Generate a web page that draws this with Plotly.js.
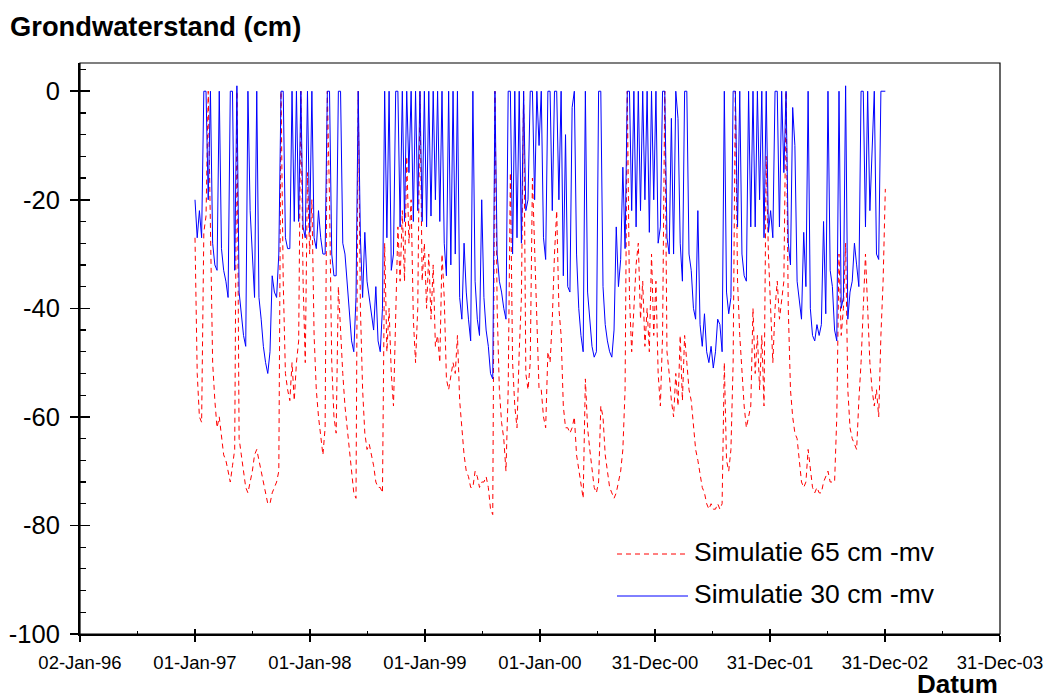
<!DOCTYPE html>
<html>
<head>
<meta charset="utf-8">
<script src="https://cdn.plot.ly/plotly-3.0.1.min.js"></script>
<style>html,body{margin:0;padding:0;background:#fff;}#chart{width:1045px;height:699px;}</style>
</head>
<body>
<div id="chart"></div>
<script>
// Weekly samples starting 1997-01-01
const seriesStart = '1997-01-01';
const stepDays = 7;

const seriesNames = ['Simulatie 65 cm -mv', 'Simulatie 30 cm -mv'];

// Simulatie 30 cm -mv (blue, solid)
const blue30 = [
  -20,-27,-22,-27,0,0,-20,0,-28,-32,
  -33,0,-29,-33,-35,-38,0,0,-33,1,
  -37,-41,-45,-47,0,-22,-30,-38,0,-38,
  -42,-47,-50,-52,-48,-34,-37,-38,-30,0,
  0,-27,-29,-29,0,-24,0,-24,0,-25,
  -27,0,-26,0,-27,-29,-22,-27,-30,-30,
  0,0,-30,-34,-34,0,0,-28,-30,-36,
  -40,-46,-48,-38,0,-27,-38,-26,-35,-38,
  -40,-44,-36,-46,-48,-40,0,-27,0,-33,
  -30,0,0,-25,0,-24,0,-15,0,-24,
  0,-22,0,-24,0,-25,0,-23,0,-20,
  0,-24,0,-28,-34,0,-32,0,-30,0,
  -38,-42,-28,-37,-42,-46,0,-35,-42,-45,
  -20,-38,-44,-47,-52,-53,0,-30,-35,-37,
  -40,-42,0,0,-30,0,-27,0,-28,0,
  -22,-20,0,0,-20,0,-10,0,-27,-31,
  0,0,-22,0,0,-20,0,-34,-8,-36,
  -37,-3,0,-30,-40,-45,-48,0,-37,-42,
  -47,-49,-48,0,0,-36,-43,-46,-48,-49,
  -44,-25,-36,-31,-14,-29,0,0,-22,0,
  -25,0,-22,0,-20,0,-26,0,-20,0,
  -28,-25,0,0,-27,-30,-5,-30,0,-5,
  -28,-35,0,0,-30,-33,-40,-42,-22,-43,
  -47,-41,-48,-50,-47,-51,-48,-42,-43,-48,
  0,-37,-41,-38,0,0,-25,0,-30,-34,
  -35,0,-25,0,-25,0,-20,0,-27,0,
  -26,-22,-27,0,0,-25,0,-15,0,-28,
  -32,-3,-10,-35,-38,-42,-26,-36,0,-40,
  -45,-46,-43,-45,-43,-24,-41,0,-33,-36,
  -44,-46,0,-40,-38,1,-42,-37,-35,-28,
  -32,-36,0,0,-25,0,-22,-12,0,-30,
  -31,0,0,0
];

// Simulatie 65 cm -mv (red, dashed)
const red65 = [
  -27,-52,-60,-61,-26,-23,0,-28,-50,-57,
  -62,-60,-63,-67,-68,-70,-72,-69,-66,0,
  -64,-67,-70,-73,-74,-72,-70,-67,-66,-68,
  -70,-72,-74,-76,-76,-74,-73,-72,-70,0,
  -35,-52,-55,-57,-50,-57,-50,-46,0,-35,
  -50,-15,-30,-20,-45,-55,-60,-63,-67,-62,
  0,-20,-50,-60,-63,-36,-45,-52,-58,-62,
  -66,-70,-74,-75,0,-40,-55,-63,-66,-65,
  -67,-69,-72,-73,-73,-74,-28,-48,-40,-52,
  -58,-40,-25,-35,-22,-35,-12,-28,-20,-42,
  -50,-40,0,-35,-28,-40,-30,-42,-32,-47,
  -45,-50,-30,-38,-53,-55,-52,-50,-52,-45,
  -57,-63,-67,-70,-71,-73,-73,-70,-71,-73,
  -72,-72,-71,-73,-77,-78,0,-40,-55,-61,
  -64,-70,-55,-15,-50,-58,-62,-48,-38,0,
  -52,-55,-50,-16,-30,-45,-55,-55,-60,-62,
  -48,-50,-42,-30,-22,-40,-45,-58,-62,-62,
  -63,-62,-60,-67,-70,-73,-75,-53,-62,-66,
  -70,-73,-74,-72,-58,-60,-67,-70,-73,-74,
  -75,-74,-72,-70,-66,-55,0,-38,-48,-40,
  -32,-28,-42,-35,-47,-40,-48,-30,-45,-35,
  -52,-58,-45,0,-48,-52,-57,-60,-52,-58,
  -45,-57,-45,-50,-55,-57,-62,-66,-68,-71,
  -73,-74,-76,-77,-76,-77,-77,-76,-77,-76,
  -50,-68,-70,-66,-50,0,-35,-45,-52,-58,
  -62,-60,-58,-40,-52,-45,-55,-45,-58,-12,
  -30,-40,-50,-40,-35,-42,-38,-35,0,-40,
  -55,-60,-63,-64,-68,-72,-73,-72,-66,-70,
  -73,-74,-73,-74,-74,-72,-71,-70,-72,-72,
  -72,-60,-30,-45,-40,-28,-55,-62,-64,-65,
  -66,-57,-50,-40,-30,-40,-50,-55,-58,-55,
  -60,-45,-35,-18
];

// Axis ticks
const xTickVals = ['1996-01-02','1997-01-01','1998-01-01','1999-01-01','2000-01-01','2000-12-31','2001-12-31','2002-12-31','2003-12-31'];
const xTickText = ['02-Jan-96','01-Jan-97','01-Jan-98','01-Jan-99','01-Jan-00','31-Dec-00','31-Dec-01','31-Dec-02','31-Dec-03'];
const yTickVals = [0,-20,-40,-60,-80,-100];
const yTickText = ['0','-20','-40','-60','-80','-100'];
const xRange = ['1996-01-02','2003-12-31'];
const yRange = [-100, 5.2];

function buildDates(n) {
  const [y, m, d] = seriesStart.split('-').map(Number);
  const t0 = Date.UTC(y, m - 1, d);
  const out = [];
  for (let i = 0; i < n; i++) out.push(new Date(t0 + i * stepDays * 86400000).toISOString().slice(0, 10));
  return out;
}
const dates = buildDates(blue30.length);

const FONT = 'Liberation Sans, Arial, Helvetica, sans-serif';
const RED = '#ff0000', BLUE = '#0000ff';
const DASH = '5px,4px';

const traces = [
  {type:'scatter', mode:'lines', name:seriesNames[0], x:dates, y:red65,
   line:{color:RED, width:1, dash:DASH}, hoverinfo:'x+y'},
  {type:'scatter', mode:'lines', name:seriesNames[1], x:dates, y:blue30,
   line:{color:BLUE, width:1}, hoverinfo:'x+y'},
  {type:'scatter', mode:'lines', x:[], y:[], xaxis:'x2', yaxis:'y2', showlegend:false, hoverinfo:'skip'}
];

// plot area in pixels: x 80..1000, y 63..634
const px = v => (v - 80) / 920;
const py = v => (634 - v) / 571;

const layout = {
  width:1045, height:699,
  margin:{l:80, r:45, t:63, b:65, pad:0},
  paper_bgcolor:'#ffffff', plot_bgcolor:'#ffffff',
  showlegend:false,
  font:{family:FONT, color:'#000000'},
  title:{text:'Grondwaterstand (cm)', font:{family:FONT, size:27.3, weight:'bold', color:'#000'},
         xref:'container', yref:'container', x:0.0096, xanchor:'left', y:0.962, yanchor:'middle'},
  xaxis:{type:'date', range:xRange, tickmode:'array', tickvals:xTickVals, ticktext:xTickText,
         ticks:'outside', ticklen:6, tickwidth:1.5, tickcolor:'#000',
         showline:true, linewidth:2, linecolor:'#000', showgrid:false, zeroline:false,
         tickfont:{family:FONT, size:18.5, color:'#000'}, ticklabelstandoff:5},
  yaxis:{range:yRange, tickmode:'array', tickvals:yTickVals, ticktext:yTickText,
         ticks:'outside', ticklen:8, tickwidth:1.5, tickcolor:'#000',
         showline:true, linewidth:2, linecolor:'#000', showgrid:false, zeroline:false,
         tickfont:{family:FONT, size:25.5, color:'#000'}, ticklabelstandoff:5},
  xaxis2:{type:'date', overlaying:'x', anchor:'y', range:xRange, tickmode:'array', tickvals:xTickVals,
          ticks:'inside', ticklen:5, tickwidth:1.5, tickcolor:'#000', showticklabels:false,
          showline:false, showgrid:false, zeroline:false,
          minor:{ticks:'inside', ticklen:3, tickwidth:1.2, tickcolor:'#000', tick0:'1996-01-02', dtick:182.5*86400000, showgrid:false}},
  yaxis2:{overlaying:'y', anchor:'x', range:yRange, tickmode:'array', tickvals:yTickVals,
          ticks:'inside', ticklen:10, tickwidth:1.5, tickcolor:'#000', showticklabels:false,
          showline:false, showgrid:false, zeroline:false,
          minor:{ticks:'inside', ticklen:6, tickwidth:1.2, tickcolor:'#000', tick0:0, dtick:4, showgrid:false}},
  shapes:[
    {type:'rect', xref:'paper', yref:'paper', x0:0, x1:1, y0:0, y1:1, line:{color:'#000', width:1.2}, layer:'above'},
    {type:'line', xref:'paper', yref:'paper', x0:px(617), x1:px(688), y0:py(554), y1:py(554), line:{color:RED, width:1, dash:DASH}},
    {type:'line', xref:'paper', yref:'paper', x0:px(617), x1:px(688), y0:py(596), y1:py(596), line:{color:BLUE, width:1}}
  ],
  annotations:[
    {xref:'paper', yref:'paper', x:px(692), y:py(552), xanchor:'left', yanchor:'middle', showarrow:false,
     text:seriesNames[0], font:{family:FONT, size:26.5, color:'#000'}},
    {xref:'paper', yref:'paper', x:px(692), y:py(594), xanchor:'left', yanchor:'middle', showarrow:false,
     text:seriesNames[1], font:{family:FONT, size:26.5, color:'#000'}},
    {xref:'paper', yref:'paper', x:1, y:py(684), xanchor:'right', yanchor:'middle', showarrow:false,
     text:'Datum', font:{family:FONT, size:26, weight:'bold', color:'#000'}}
  ]
};

Plotly.newPlot('chart', traces, layout, {displayModeBar:false, staticPlot:true});
</script>
</body>
</html>
